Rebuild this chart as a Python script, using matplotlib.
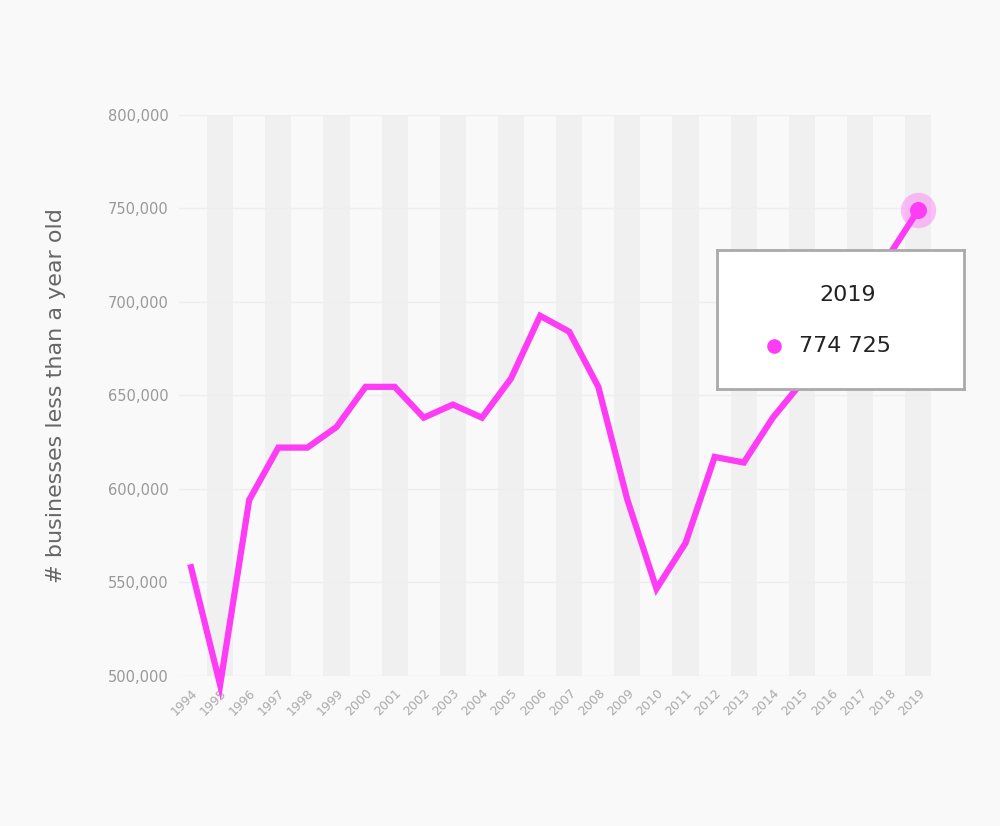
import matplotlib
matplotlib.use("Agg")
import matplotlib.pyplot as plt
from matplotlib.ticker import FuncFormatter

years = list(range(1994, 2020))
values = [558000, 495000, 594000, 622000, 622000, 633000, 654500, 654500, 638000, 645000,
          638000, 659000, 692500, 684000, 654500, 594000, 546500, 571000, 617000, 614000,
          638000, 657000, 680000, 702000, 725000, 749000]
yticks = [500000, 550000, 600000, 650000, 700000, 750000, 800000]
tooltip_year = "2019"
tooltip_value = "774 725"

bg = "#f9f9f9"
fig = plt.figure(figsize=(10, 8.26), dpi=100, facecolor=bg)
ax = fig.add_axes([0.1794, 0.182, 0.752, 0.679])
ax.set_facecolor(bg)
for y in years:
    if y % 2 == 1:
        ax.axvspan(y - 0.45, y + 0.45, color="#f0f0f0", zorder=0, lw=0)
for t in yticks:
    ax.axhline(t, color="#eeeeee", lw=1, zorder=0.5)
ax.plot(years, values, color="#ff3cf5", lw=4.5, zorder=3, solid_joinstyle="miter", clip_on=False)
ax.scatter([years[-1]], [values[-1]], s=650, color="#ff3cf5", alpha=0.3, zorder=4, lw=0, clip_on=False)
ax.scatter([years[-1]], [values[-1]], s=150, color="#ff3cf5", zorder=5, lw=0, clip_on=False)
ax.set_xlim(1993.6, 2019.45)
ax.set_ylim(500000, 800000)
ax.set_yticks(yticks)
ax.yaxis.set_major_formatter(FuncFormatter(lambda v, p: f"{int(v):,}"))
ax.set_xticks(years)
ax.set_xticklabels([str(y) for y in years], rotation=45, ha="right", rotation_mode="anchor")
ax.tick_params(axis="x", colors="#aaaaaa", labelsize=9, length=0, pad=8)
ax.tick_params(axis="y", colors="#999999", labelsize=10.5, length=0, pad=8)
for s in ax.spines.values():
    s.set_visible(False)
ax.set_ylabel("# businesses less than a year old", fontsize=16, color="#666666", labelpad=30)

# tooltip
tip = fig.add_axes([0.717, 0.529, 0.247, 0.168])
tip.set_xlim(0, 1); tip.set_ylim(0, 1)
tip.set_facecolor("white")
for s in tip.spines.values():
    s.set_color("#aaaaaa"); s.set_linewidth(2)
tip.set_xticks([]); tip.set_yticks([])
tip.text(0.53, 0.68, tooltip_year, ha="center", va="center", fontsize=16, color="#222222")
tip.scatter([0.23], [0.31], s=90, color="#ff3cf5")
tip.text(0.33, 0.31, tooltip_value, ha="left", va="center", fontsize=16, color="#222222")
fig.savefig("out.png", dpi=100, facecolor=bg)
